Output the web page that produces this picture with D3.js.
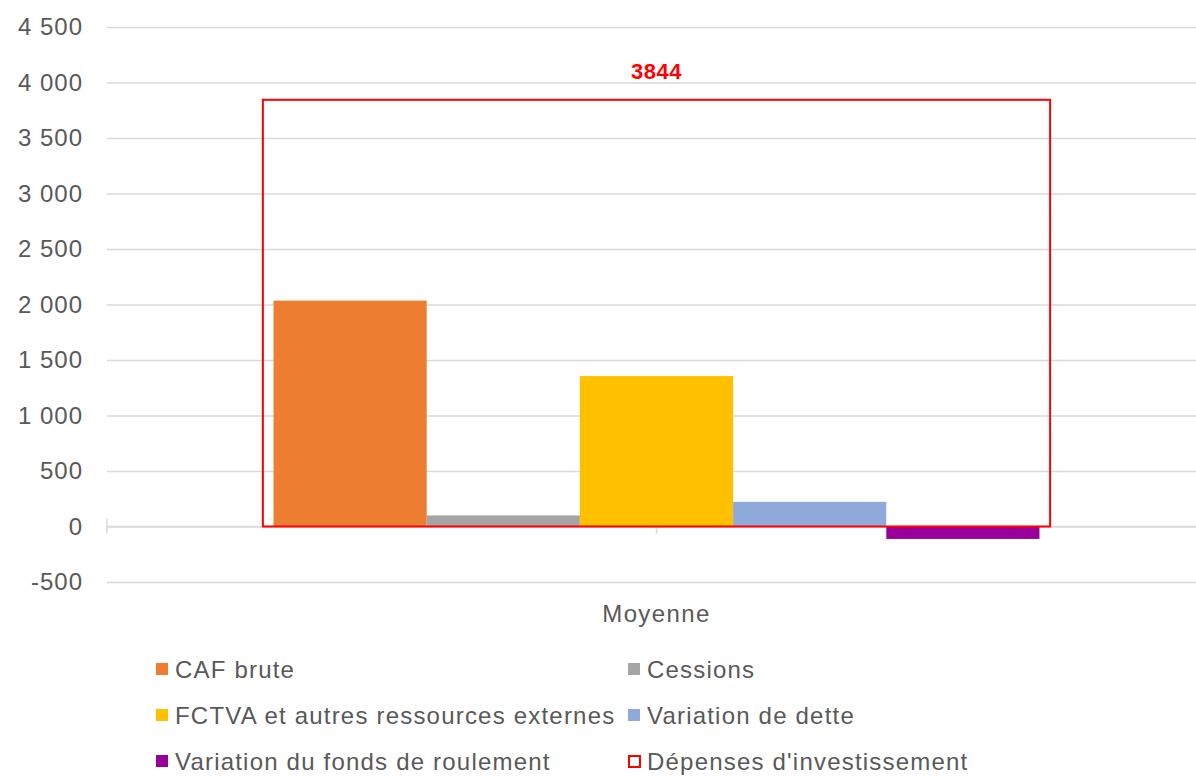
<!DOCTYPE html>
<html>
<head>
<meta charset="utf-8">
<script src="https://cdn.jsdelivr.net/npm/d3@7"></script>
<style>
  body { margin: 0; background: #fff; }
  svg { display: block; font-family: "Liberation Sans", Arial, sans-serif; }
</style>
</head>
<body>
<svg class="chart" width="1196" height="776"></svg>
<script>
// données
var categories = ["Moyenne"];
var seriesNames = ["CAF brute", "Cessions", "FCTVA et autres ressources externes", "Variation de dette", "Variation du fonds de roulement"];
var seriesValues = [2035, 100, 1355, 222, -112];
var seriesColors = ["#ED7D31", "#A5A5A5", "#FFC000", "#8EAADB", "#990099"];
var depensesName = "Dépenses d'investissement";
var depensesValues = [3844];
var yTicks = [-500, 0, 500, 1000, 1500, 2000, 2500, 3000, 3500, 4000, 4500];

var canvas = d3.select(".chart");

var y = d3.scaleLinear()
  .domain([-500, 4500])
  .range([582, 27]);

// bande de la catégorie (barres)
var x0 = d3.scaleBand()
  .domain(categories)
  .range([107, 1206])
  .paddingInner(0)
  .paddingOuter(0.2174);

// bande de la catégorie (rectangle des dépenses, axe secondaire)
var xBox = d3.scaleBand()
  .domain(categories)
  .range([107, 1206])
  .paddingInner(0)
  .paddingOuter(0.198);

var x1 = d3.scaleBand()
  .domain(seriesNames)
  .range([0, x0.bandwidth()]);

var fmt = function(v){
  return d3.format(",")(v).replace(/,/g, " ").replace("\u2212", "-");
};

// grille
var yAxis = d3.axisLeft(y)
  .tickValues(yTicks)
  .tickSize(-(1196 - 107))
  .tickFormat(fmt)
  .tickPadding(24);

var gy = canvas.append("g")
  .attr("transform", "translate(107,0)")
  .call(yAxis);
gy.select(".domain").remove();
gy.selectAll(".tick line")
  .attr("stroke", "#d9d9d9")
  .attr("stroke-width", 1.5);
gy.selectAll(".tick text")
  .attr("fill", "#595959")
  .style("font-size", "24px")
  .style("letter-spacing", "1px");

// axe des catégories (ligne du zéro)
canvas.append("line")
  .attr("x1", 107).attr("x2", 1196)
  .attr("y1", y(0)).attr("y2", y(0))
  .attr("stroke", "#d9d9d9")
  .attr("stroke-width", 1.5);
canvas.append("line")
  .attr("x1", 107).attr("x2", 107)
  .attr("y1", y(0) - 8).attr("y2", y(0) + 7)
  .attr("stroke", "#d9d9d9")
  .attr("stroke-width", 1.5);
canvas.selectAll(".cattick")
  .data(categories)
  .enter()
    .append("line")
      .attr("x1", d => x0(d) + x0.bandwidth() / 2)
      .attr("x2", d => x0(d) + x0.bandwidth() / 2)
      .attr("y1", y(0))
      .attr("y2", y(0) + 7)
      .attr("stroke", "#d9d9d9")
      .attr("stroke-width", 1.5);

canvas.selectAll(".catlabel")
  .data(categories)
  .enter()
    .append("text")
      .attr("x", d => x0(d) + x0.bandwidth() / 2)
      .attr("y", 622)
      .attr("text-anchor", "middle")
      .attr("fill", "#595959")
      .style("font-size", "24px")
      .style("letter-spacing", "1.4px")
      .text(d => d);

// barres
var groups = canvas.selectAll(".grp")
  .data(categories)
  .enter()
    .append("g")
      .attr("transform", d => "translate(" + x0(d) + ",0)");

groups.selectAll("rect")
  .data(seriesNames.map((s, i) => ({name: s, value: seriesValues[i], color: seriesColors[i]})))
  .enter()
    .append("rect")
      .attr("x", d => x1(d.name))
      .attr("width", x1.bandwidth())
      .attr("y", d => y(Math.max(0, d.value)))
      .attr("height", d => Math.abs(y(d.value) - y(0)))
      .attr("fill", d => d.color);

// rectangle des dépenses d'investissement
canvas.selectAll(".depenses")
  .data(categories.map((c, i) => ({cat: c, value: depensesValues[i]})))
  .enter()
    .append("rect")
      .attr("x", d => xBox(d.cat))
      .attr("width", xBox.bandwidth())
      .attr("y", d => y(d.value))
      .attr("height", d => y(0) - y(d.value))
      .attr("fill", "none")
      .attr("stroke", "#FF0000")
      .attr("stroke-width", 2);

canvas.selectAll(".deplabel")
  .data(categories.map((c, i) => ({cat: c, value: depensesValues[i]})))
  .enter()
    .append("text")
      .attr("x", d => xBox(d.cat) + xBox.bandwidth() / 2)
      .attr("y", d => y(d.value) - 21)
      .attr("text-anchor", "middle")
      .attr("fill", "#FF0000")
      .style("font-size", "22px")
      .style("font-weight", "bold")
      .style("letter-spacing", "0.5px")
      .text(d => d.value);

// légende
var legendItems = seriesNames.map((s, i) => ({name: s, color: seriesColors[i], box: false}));
legendItems.push({name: depensesName, color: "#FF0000", box: true});

var legend = canvas.selectAll(".legend")
  .data(legendItems)
  .enter()
    .append("g")
      .attr("transform", (d, i) => "translate(" + (i % 2 === 0 ? 156 : 628) + "," + (669 + Math.floor(i / 2) * 46) + ")");

legend.append("rect")
  .attr("x", d => d.box ? 1 : 0)
  .attr("y", d => d.box ? -5 : -6)
  .attr("width", d => d.box ? 11 : 12)
  .attr("height", d => d.box ? 11 : 12)
  .attr("fill", d => d.box ? "#fff" : d.color)
  .attr("stroke", d => d.box ? d.color : "none")
  .attr("stroke-width", 2);

legend.append("text")
  .attr("x", 19)
  .attr("y", 9)
  .attr("fill", "#595959")
  .style("font-size", "24px")
  .style("letter-spacing", "1.2px")
  .text(d => d.name);
</script>
</body>
</html>
